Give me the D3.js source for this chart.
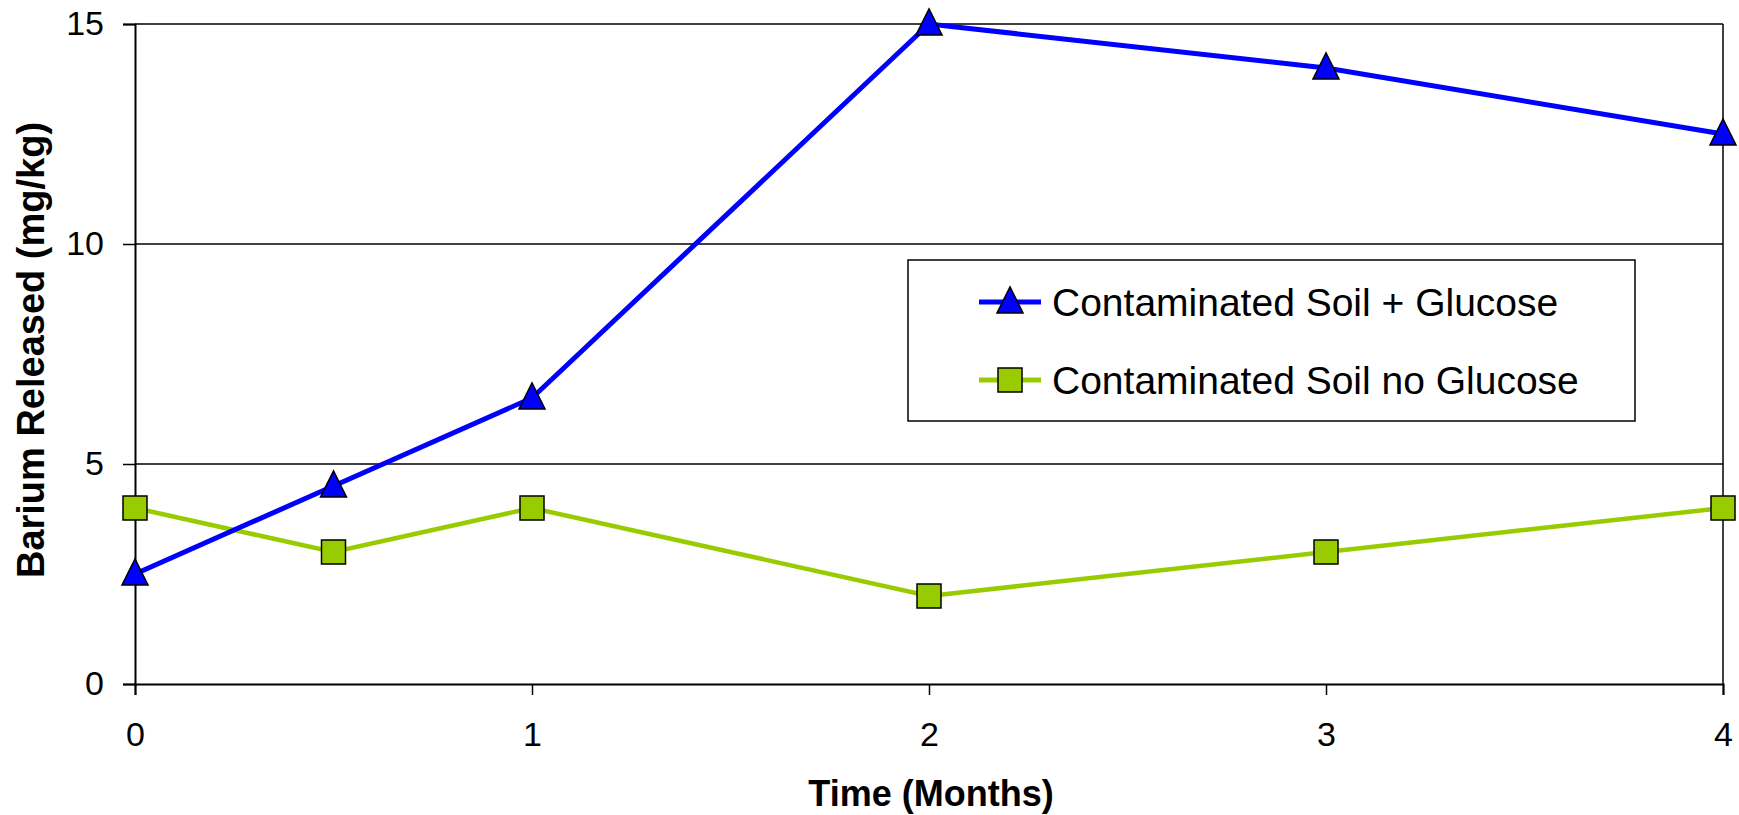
<!DOCTYPE html>
<html>
<head>
<meta charset="utf-8">
<script src="https://cdn.jsdelivr.net/npm/d3@7"></script>
<style>
  html, body { margin: 0; padding: 0; background: #fff; }
  svg { display: block; font-family: "Liberation Sans", Arial, sans-serif; }
</style>
</head>
<body>
<svg id="chart" width="1739" height="815"></svg>
<script>
// Barium release over time, with and without glucose amendment
const months = [0, 0.5, 1, 2, 3, 4];
const withGlucose = [2.5, 4.5, 6.5, 15, 14, 12.5];
const noGlucose = [4, 3, 4, 2, 3, 4];
const xTicks = [0, 1, 2, 3, 4];
const yTicks = [0, 5, 10, 15];
const seriesNames = ["Contaminated Soil + Glucose", "Contaminated Soil no Glucose"];

const svg = d3.select("#chart");
const plot = { left: 135, right: 1723, top: 24, bottom: 684 };

const x = d3.scaleLinear().domain([0, 4]).range([plot.left, plot.right]);
const y = d3.scaleLinear().domain([0, 15]).range([plot.bottom, plot.top]);

// Horizontal gridlines (also form the top border at 15)
svg.append("g")
  .selectAll("line")
  .data(yTicks.filter(d => d > 0))
  .join("line")
  .attr("x1", plot.left).attr("x2", plot.right)
  .attr("y1", d => y(d)).attr("y2", d => y(d))
  .attr("stroke", "#000").attr("stroke-width", 1.5);

// Right border
svg.append("line")
  .attr("x1", plot.right).attr("x2", plot.right)
  .attr("y1", plot.top).attr("y2", plot.bottom)
  .attr("stroke", "#000").attr("stroke-width", 1.5);

// Y axis
const yAxis = svg.append("g")
  .attr("transform", `translate(${plot.left},0)`)
  .call(d3.axisLeft(y).tickValues(yTicks).tickSize(12).tickPadding(19).tickFormat(d3.format("d")));
yAxis.select(".domain").attr("stroke-width", 2);
yAxis.selectAll(".tick line").attr("stroke-width", 1.5);
yAxis.selectAll(".tick text").attr("font-size", 34).attr("fill", "#000")
  .attr("font-family", "Liberation Sans, Arial, sans-serif");

// X axis
const xAxis = svg.append("g")
  .attr("transform", `translate(0,${plot.bottom})`)
  .call(d3.axisBottom(x).tickValues(xTicks).tickSize(11).tickPadding(27).tickFormat(d3.format("d")));
xAxis.select(".domain").attr("stroke-width", 2);
xAxis.selectAll(".tick line").attr("stroke-width", 1.5);
xAxis.selectAll(".tick text").attr("font-size", 34).attr("fill", "#000")
  .attr("font-family", "Liberation Sans, Arial, sans-serif");

// Axis titles
svg.append("text")
  .attr("x", (plot.left + plot.right) / 2 + 2)
  .attr("y", 806)
  .attr("text-anchor", "middle")
  .attr("font-weight", "bold")
  .attr("font-size", 36)
  .text("Time (Months)");

svg.append("text")
  .attr("transform", `translate(44,${(plot.top + plot.bottom) / 2 - 4}) rotate(-90)`)
  .attr("text-anchor", "middle")
  .attr("font-weight", "bold")
  .attr("font-size", 38)
  .text("Barium Released (mg/kg)");

// Series
const line = d3.line().x(d => x(d[0])).y(d => y(d[1]));
const blueData = months.map((m, i) => [m, withGlucose[i]]);
const greenData = months.map((m, i) => [m, noGlucose[i]]);

const blue = "#0000FF";
const green = "#99CC00";
const triSize = 26, sqSize = 24;
const triPath = s => `M0,${-s * 0.58}L${s / 2},${s * 0.42}L${-s / 2},${s * 0.42}Z`;

svg.append("path").datum(greenData)
  .attr("d", line).attr("fill", "none")
  .attr("stroke", green).attr("stroke-width", 4.5);

svg.append("path").datum(blueData)
  .attr("d", line).attr("fill", "none")
  .attr("stroke", blue).attr("stroke-width", 5);

svg.append("g").selectAll("rect")
  .data(greenData)
  .join("rect")
  .attr("x", d => x(d[0]) - sqSize / 2)
  .attr("y", d => y(d[1]) - sqSize / 2)
  .attr("width", sqSize).attr("height", sqSize)
  .attr("fill", green).attr("stroke", "#000").attr("stroke-width", 1.5);

svg.append("g").selectAll("path")
  .data(blueData)
  .join("path")
  .attr("transform", d => `translate(${x(d[0])},${y(d[1])})`)
  .attr("d", triPath(triSize))
  .attr("fill", blue).attr("stroke", "#000").attr("stroke-width", 1.5);

// Legend
const legend = svg.append("g");
legend.append("rect")
  .attr("x", 908).attr("y", 260)
  .attr("width", 727).attr("height", 161)
  .attr("fill", "#fff").attr("stroke", "#000").attr("stroke-width", 1.5);

const legendRows = [
  { name: seriesNames[0], color: blue, marker: "tri", cy: 302 },
  { name: seriesNames[1], color: green, marker: "sq", cy: 380 }
];
legendRows.forEach(r => {
  legend.append("line")
    .attr("x1", 979).attr("x2", 1041)
    .attr("y1", r.cy).attr("y2", r.cy)
    .attr("stroke", r.color).attr("stroke-width", 5);
  if (r.marker === "tri") {
    legend.append("path")
      .attr("transform", `translate(1010,${r.cy})`)
      .attr("d", triPath(triSize))
      .attr("fill", r.color).attr("stroke", "#000").attr("stroke-width", 1.5);
  } else {
    legend.append("rect")
      .attr("x", 1010 - sqSize / 2).attr("y", r.cy - sqSize / 2)
      .attr("width", sqSize).attr("height", sqSize)
      .attr("fill", r.color).attr("stroke", "#000").attr("stroke-width", 1.5);
  }
  legend.append("text")
    .attr("x", 1052).attr("y", r.cy + 14)
    .attr("font-size", 39)
    .text(r.name);
});
</script>
</body>
</html>
